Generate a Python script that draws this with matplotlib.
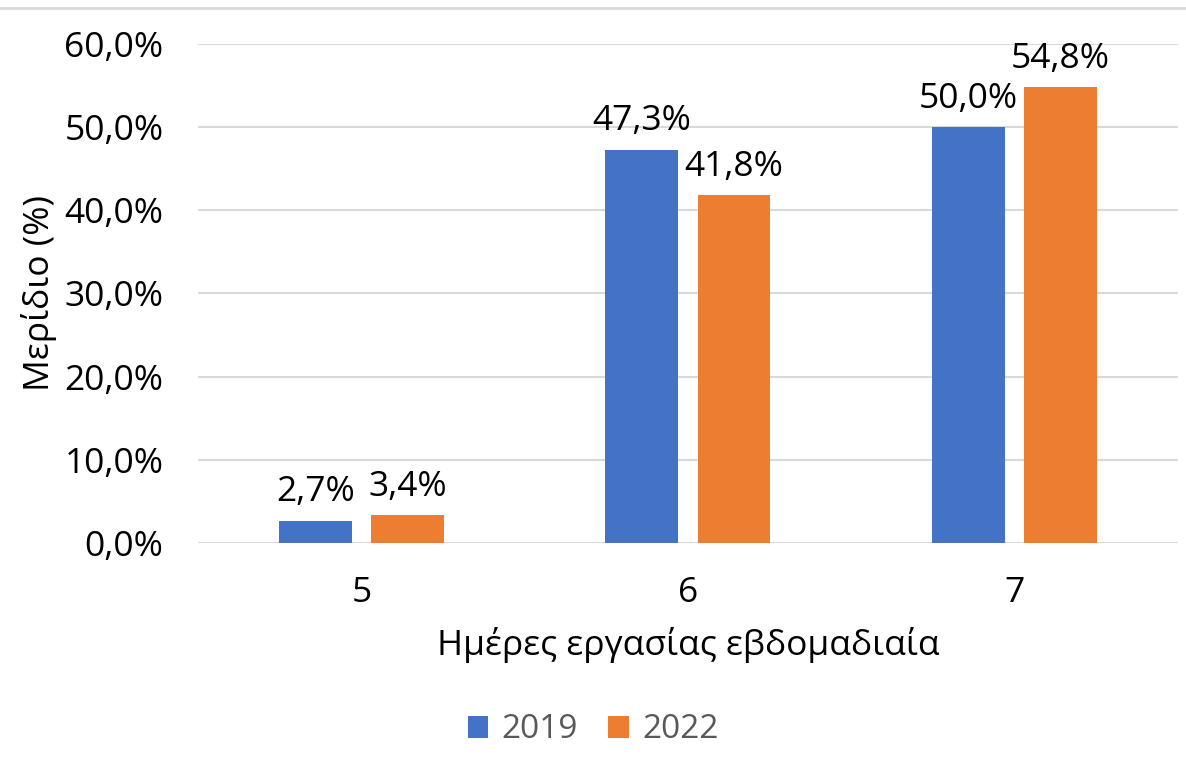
import matplotlib
matplotlib.use("Agg")
import matplotlib.pyplot as plt
from matplotlib.lines import Line2D
import numpy as np

# chart data
categories = ["5", "6", "7"]
share_2019 = [2.7, 47.3, 50.0]
share_2022 = [3.4, 41.8, 54.8]
series_names = ["2019", "2022"]
y_ticks = [0, 10, 20, 30, 40, 50, 60]

BLUE = "#4472C4"
ORANGE = "#ED7D31"
GRID = "#D9D9D9"
FS = 25.5

plt.rcParams["font.family"] = ["Open Sans", "DejaVu Sans"]

fig = plt.figure(figsize=(11.86, 7.69), dpi=100)
ax = fig.add_axes([0.167, 0.2939, 0.826, 0.6489])

x = np.arange(len(categories))
width = 0.223
offset = 0.141

bars1 = ax.bar(x - offset, share_2019, width, color=BLUE, label=series_names[0], zorder=3)
bars2 = ax.bar(x + offset, share_2022, width, color=ORANGE, label=series_names[1], zorder=3)

def pct(v):
    return f"{v:.1f}%".replace(".", ",")

for bars, vals in [(bars1, share_2019), (bars2, share_2022)]:
    for b, v in zip(bars, vals):
        ax.annotate(pct(v), (b.get_x() + b.get_width() / 2, b.get_height()),
                    xytext=(0, 8), textcoords="offset points",
                    ha="center", va="bottom", fontsize=FS, color="black")

ax.set_xlim(-0.5, 2.5)
ax.set_ylim(0, 60)
ax.set_yticks(y_ticks)
ax.set_yticklabels([f"{t},0%" for t in y_ticks])
ax.set_xticks(x)
ax.set_xticklabels(categories)
ax.tick_params(axis="y", length=0, pad=25, labelsize=FS)
ax.tick_params(axis="x", length=0, pad=24, labelsize=FS)
ax.grid(axis="y", color=GRID, linewidth=1.5, zorder=0)
for s in ax.spines.values():
    s.set_visible(False)

ax.set_ylabel("Μερίδιο (%)", fontsize=FS, labelpad=5)
ax.set_xlabel("Ημέρες εργασίας εβδομαδιαία", fontsize=FS, labelpad=12)

fig.legend(handles=[bars1, bars2], labels=series_names, loc="center",
           bbox_to_anchor=(0.5, 1 - 730 / 769), ncol=2, frameon=False,
           fontsize=24, labelcolor="#595959", handlelength=0.62, handleheight=0.62,
           handletextpad=0.4, columnspacing=0.9)

# thin frame line along the top
fig.add_artist(Line2D([0, 1], [1 - 8 / 769, 1 - 8 / 769], color=GRID, linewidth=2,
                      transform=fig.transFigure))

fig.savefig("out.png", dpi=100)
